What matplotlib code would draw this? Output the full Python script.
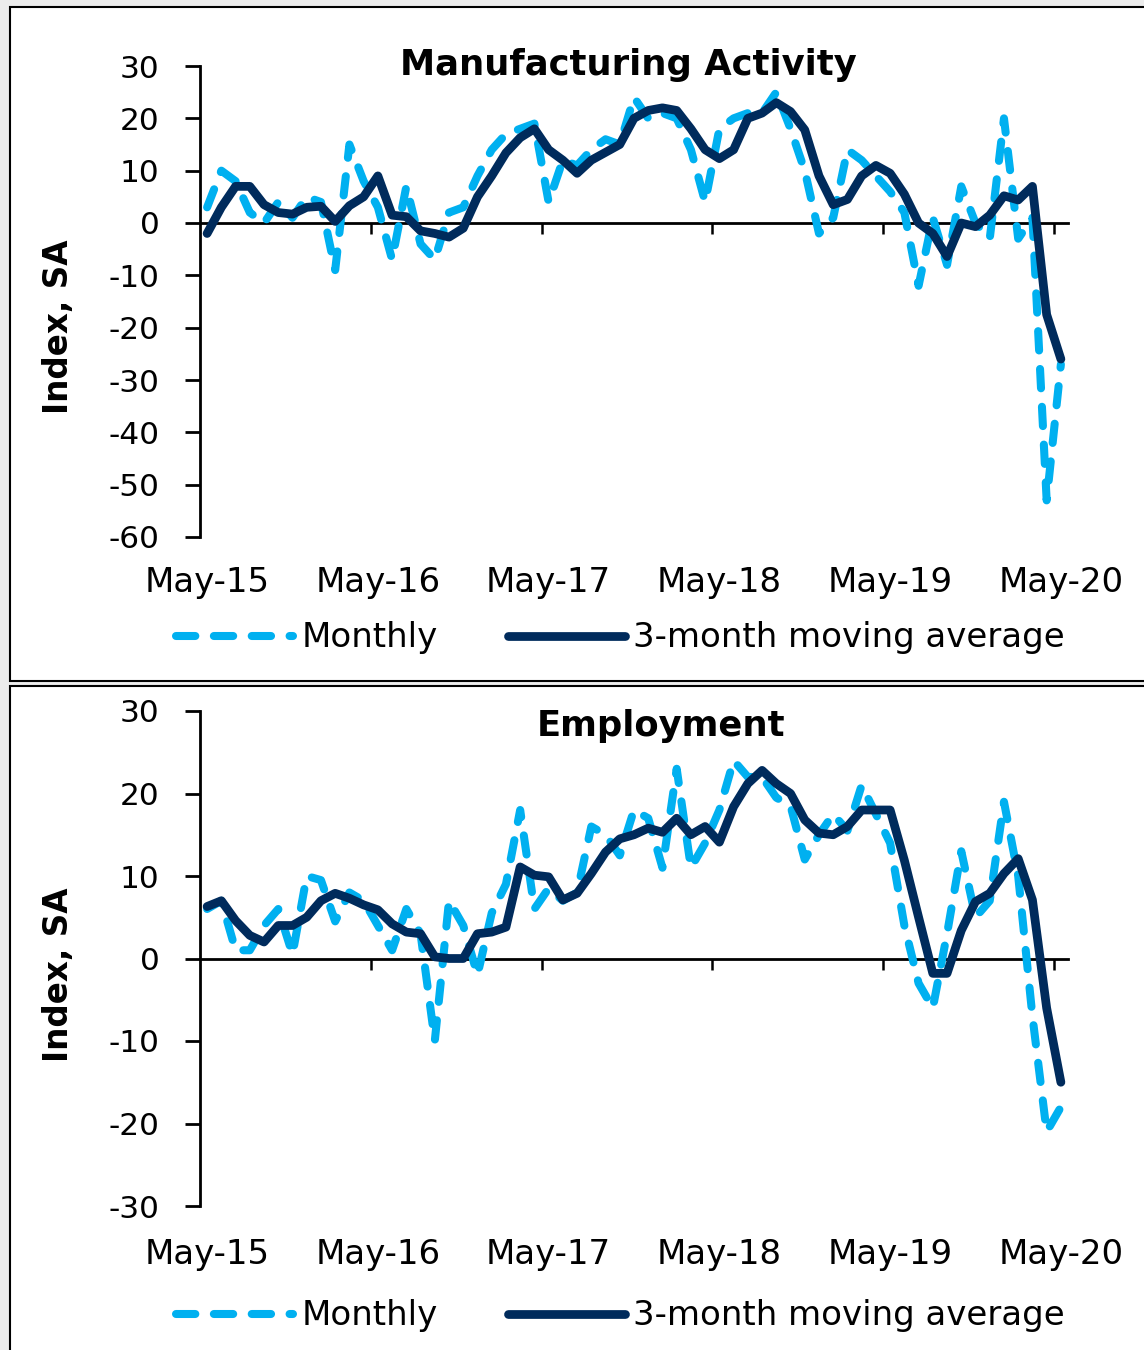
import matplotlib
matplotlib.use("Agg")
import matplotlib.pyplot as plt
from matplotlib.patches import Rectangle
import numpy as np

plt.rcParams['font.family'] = ['DejaVu Sans']
plt.rcParams['axes.unicode_minus'] = False

# ---------------- data ----------------
months = list(range(61))  # May-15 .. May-20
x_labels = ["May-15", "May-16", "May-17", "May-18", "May-19", "May-20"]
x_label_pos = [0, 12, 24, 36, 48, 60]
year_bounds = [11.5, 23.5, 35.5, 47.5, 59.5]

mfg_monthly = [3, 10, 8, 2, 0, 4, 1, 5, 4, -9,
               15, 8, 3, -7, 7, -4, -7, 2, 3, 9,
               14, 17, 18, 19, 4, 12, 11, 14, 16, 15,
               24, 20, 21, 20, 14, 4, 18, 20, 21, 21,
               25, 18, 10, -2, 1, 14, 12, 9, 6, 2,
               -12, 1, -8, 7, 0, -3, 20, -3, 1, -53,
               -27]
mfg_ma3 = [-2, 3, 7, 7, 3.5, 2, 1.7, 3, 3.2, 0.3,
           3.3, 5, 9, 1.5, 1.2, -1.5, -2, -2.7, -1, 5,
           9, 13.4, 16.3, 18, 14, 12, 9.5, 12, 13.5, 15,
           20, 21.5, 22, 21.5, 18, 14, 12.3, 14, 20, 21,
           23, 21.3, 17.8, 9, 3.5, 4.5, 9, 11, 9.5, 5.5,
           0, -2, -6.4, 0, -0.7, 1.5, 5.2, 4.4, 7, -17.5,
           -26]

emp_monthly = [6, 7, 1, 1, 4, 6, 0.5, 10, 9.5, 4.5,
               8, 7, 4, 1, 6, 3, -10, 7, 4, -2,
               5.5, 9, 18, 6, 8.5, 7, 8, 16, 15, 12.5,
               18, 17, 11, 23, 11, 14, 18, 24, 22, 22,
               19.5, 18.5, 12, 15, 17.5, 15.5, 21, 17.5, 14, 4,
               -3, -6, 3, 13, 5, 7, 19, 10, -7, -21,
               -18]
emp_ma3 = [6.3, 7, 4.6, 2.8, 2, 4, 4, 5, 7, 7.9,
           7.3, 6.5, 5.9, 4.2, 3.2, 3, 0.2, 0, 0, 3,
           3.2, 3.8, 11.1, 10.1, 9.9, 7.1, 7.9, 10.3, 12.9, 14.5,
           15, 15.8, 15.3, 17, 15, 16, 14.1, 18.4, 21.2, 22.8,
           21.2, 20, 16.8, 15.2, 15, 16, 18, 18, 18, 11.9,
           5, -1.8, -1.8, 3.4, 6.9, 7.9, 10.3, 12.1, 7.1, -6,
           -15]

titles = ["Manufacturing Activity", "Employment"]
ylabel = "Index, SA"
legend_labels = ["Monthly", "3-month moving average"]

LIGHT = "#00B0F0"
NAVY = "#002B5C"

W, H = 1144, 1350
fig = plt.figure(figsize=(W / 100, H / 100), dpi=100, facecolor="#ececec")

# panel boxes
for top, bot in [(7, 681), (686, 1356)]:
    fig.patches.append(Rectangle((10 / W, 1 - bot / H), (1150 - 10) / W, (bot - top) / H,
                                 transform=fig.transFigure, facecolor="white",
                                 edgecolor="black", linewidth=1.5, zorder=-10))

panels = [
    dict(monthly=mfg_monthly, ma=mfg_ma3, ylim=(-60, 30), yt=np.arange(-60, 31, 10),
         rect=(66, 537), title=titles[0], title_xy=(628, 75), ylab_y=327, leg_y=638,
         lab_pad=21),
    dict(monthly=emp_monthly, ma=emp_ma3, ylim=(-30, 30), yt=np.arange(-30, 31, 10),
         rect=(711, 1206), title=titles[1], title_xy=(661, 736), ylab_y=975, leg_y=1316,
         lab_pad=23),
]

x0, x1 = 200, 1068
for p in panels:
    ytop, ybot = p["rect"]
    ax = fig.add_axes([x0 / W, 1 - ybot / H, (x1 - x0) / W, (ybot - ytop) / H])
    ax.set_zorder(5)
    ax.patch.set_alpha(0)
    hgt = ybot - ytop

    ax.plot(months, p["monthly"], color=LIGHT, lw=5.8, dashes=(2.4, 2.3),
            dash_capstyle="round", solid_joinstyle="round", zorder=3,
            label=legend_labels[0])
    ax.plot(months, p["ma"], color=NAVY, lw=6.3, solid_capstyle="round",
            solid_joinstyle="round", zorder=4, label=legend_labels[1])

    ax.set_xlim(-0.5, 60.5)
    ax.set_ylim(*p["ylim"])
    ax.set_yticks(p["yt"])
    ax.set_yticklabels([str(int(v)) for v in p["yt"]])
    ax.tick_params(axis="y", direction="out", length=11, width=2, pad=18,
                   labelsize=22.5, colors="black")

    for s in ["top", "right"]:
        ax.spines[s].set_visible(False)
    ax.spines["left"].set_linewidth(2)
    ax.spines["bottom"].set_position(("data", 0))
    ax.spines["bottom"].set_linewidth(2)
    ax.spines["bottom"].set_zorder(2)
    ax.set_xticks(year_bounds)
    ax.set_xticklabels([])
    ax.tick_params(axis="x", direction="out", length=8, width=1.8)

    sec = ax.secondary_xaxis("bottom")
    sec.set_xticks(x_label_pos)
    sec.set_xticklabels(x_labels)
    sec.tick_params(axis="x", length=0, pad=p["lab_pad"], labelsize=24.5)
    sec.spines["bottom"].set_visible(False)

    tx, ty = p["title_xy"]
    ax.text((tx - x0) / (x1 - x0), (ybot - ty) / hgt, p["title"], transform=ax.transAxes,
            ha="center", va="baseline", fontsize=25.5, fontweight="bold")

    ax.set_ylabel(ylabel, fontsize=23.5, fontweight="bold")
    ax.yaxis.set_label_coords((75 - x0) / (x1 - x0), (ybot - p["ylab_y"]) / hgt)

    leg = ax.legend(loc="center", bbox_to_anchor=((620.5 - x0) / (x1 - x0),
                                                   (ybot - p["leg_y"]) / hgt),
                    ncol=2, frameon=False, fontsize=24.5, handlelength=3.44,
                    handletextpad=0.24, columnspacing=2.06)

fig.savefig("out.png", dpi=100, facecolor=fig.get_facecolor())
